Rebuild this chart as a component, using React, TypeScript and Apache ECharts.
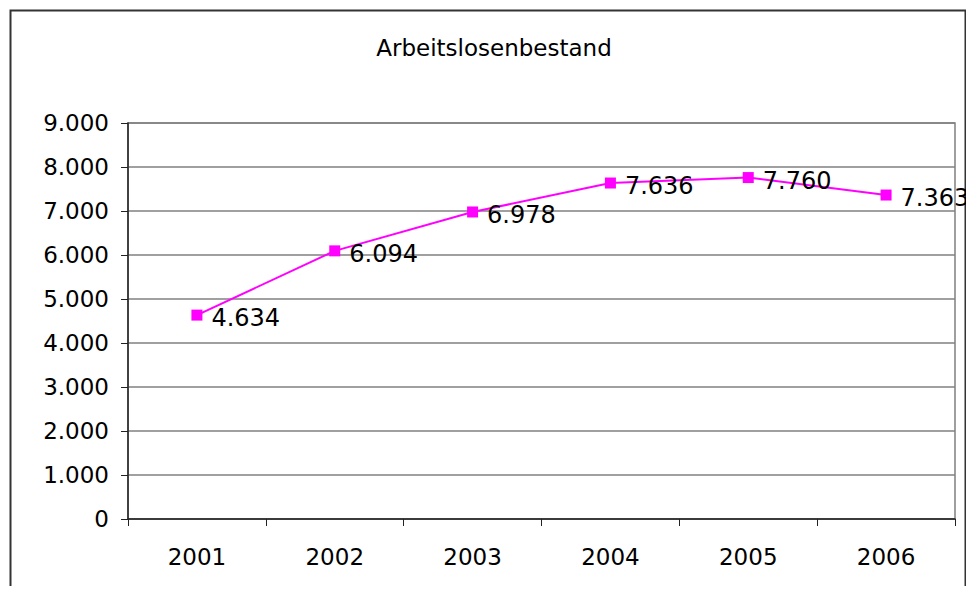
import React, { useEffect, useRef } from "react";
import * as echarts from "echarts";

const title = "Arbeitslosenbestand";
const years = ["2001", "2002", "2003", "2004", "2005", "2006"];
const values = [4634, 6094, 6978, 7636, 7760, 7363];
const yTicks = [0, 1000, 2000, 3000, 4000, 5000, 6000, 7000, 8000, 9000];

const fmt = (v: number) => {
  const s = String(Math.round(v));
  return s.replace(/\B(?=(\d{3})+(?!\d))/g, ".");
};

export default function App() {
  const ref = useRef<HTMLDivElement>(null);
  useEffect(() => {
    const chart = echarts.init(ref.current!, null, { renderer: "svg" });
    const font = "DejaVu Sans";
    chart.setOption({
      animation: false,
      backgroundColor: "#ffffff",
      textStyle: { fontFamily: font },
      title: {
        text: title,
        left: 482 - 1,
        textAlign: "center",
        top: 23,
        textStyle: { fontFamily: font, fontSize: 23, fontWeight: "normal", color: "#000" },
      },
      graphic: [
        {
          type: "rect",
          shape: { x: 2.5, y: 2.5, width: 955, height: 620 },
          style: { fill: "none", stroke: "#333", lineWidth: 2 },
          silent: true,
        },
      ],
      grid: { left: 120, right: 19, top: 115, bottom: 67, show: true, borderColor: "#808080", borderWidth: 1.5, backgroundColor: "#fff" },
      xAxis: {
        type: "category",
        data: years,
        boundaryGap: true,
        axisLine: { lineStyle: { color: "#222", width: 1.5 } },
        axisTick: { show: true, length: 7, lineStyle: { color: "#222" } },
        axisLabel: { fontSize: 23, color: "#000", margin: 26, fontFamily: font },
        splitLine: { show: false },
      },
      yAxis: {
        type: "value",
        min: 0,
        max: 9000,
        interval: 1000,
        axisLine: { show: true, lineStyle: { color: "#222", width: 1.5 } },
        axisTick: { show: true, length: 7, lineStyle: { color: "#222" } },
        axisLabel: {
          fontSize: 23,
          color: "#000",
          margin: 19,
          fontFamily: font,
          formatter: (v: number) => (yTicks.includes(v) ? fmt(v) : ""),
        },
        splitLine: { show: true, lineStyle: { color: "#808080", width: 1.5 } },
      },
      series: [
        {
          type: "line",
          data: values,
          symbol: "rect",
          symbolSize: 11,
          itemStyle: { color: "#ff00ff" },
          lineStyle: { color: "#ff00ff", width: 2 },
          label: {
            show: true,
            position: "right",
            distance: 9,
            offset: [0, 3],
            fontSize: 24,
            color: "#000",
            fontFamily: font,
            formatter: (p: any) => fmt(p.value),
          },
        },
      ],
    });
    return () => chart.dispose();
  }, []);
  return <div ref={ref} style={{ width: 966, height: 578 }} />;
}
